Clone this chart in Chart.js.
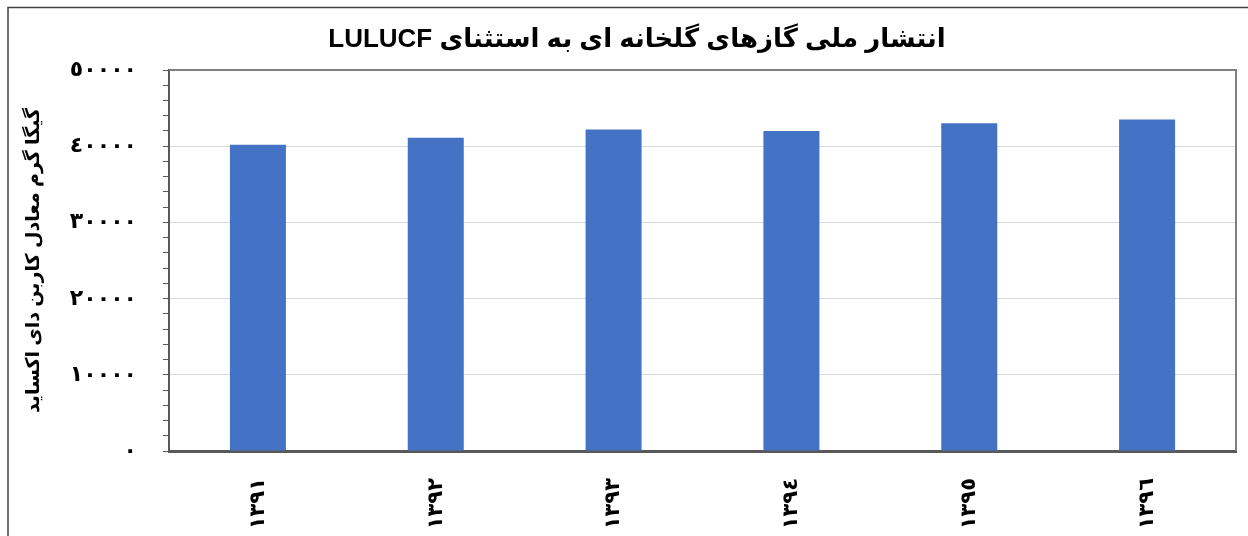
<!DOCTYPE html>
<html>
<head>
<meta charset="utf-8">
<script src="https://cdn.jsdelivr.net/npm/chart.js@4.4.0/dist/chart.umd.min.js"></script>
<style>
  html, body { margin: 0; padding: 0; background: #fff; }
  #wrap { width: 1248px; height: 536px; }
</style>
</head>
<body>
<div id="wrap"><canvas id="chart" width="1248" height="536" dir="rtl"></canvas></div>
<script>
  // data
  var years = ['١٣٩١', '١٣٩٢', '١٣٩٣', '١٣٩٤', '١٣٩٥', '١٣٩٦'];
  var emissions = [40200, 41100, 42200, 42000, 43000, 43500];
  var yMax = 50000;
  var yMajorStep = 10000;
  var yMinorStep = 2000;

  var chartTitle = 'انتشار ملی گازهای گلخانه ای به استثنای LULUCF';
  var yTitle = 'گیگا گرم معادل کاربن دای اکساید';

  var fontFamily = '"Liberation Sans", "DejaVu Sans", sans-serif';

  function toArabicDigits(n) {
    return String(n).replace(/[0-9]/g, function(d) {
      return String.fromCharCode(0x0660 + (+d));
    });
  }

  // outer frame, plot area outline and the title (sits a bit right of centre)
  var frames = {
    id: 'frames',
    afterDraw: function(chart) {
      var ctx = chart.ctx, a = chart.chartArea;
      ctx.save();
      ctx.strokeStyle = '#404040';
      ctx.lineWidth = 1.5;
      ctx.beginPath();
      ctx.moveTo(8, 536);
      ctx.lineTo(8, 7.5);
      ctx.lineTo(1248, 7.5);
      ctx.stroke();

      ctx.strokeStyle = '#808080';
      ctx.lineWidth = 2;
      ctx.beginPath();
      ctx.moveTo(a.left, a.top);
      ctx.lineTo(a.right, a.top);
      ctx.lineTo(a.right, a.bottom);
      ctx.stroke();

      ctx.fillStyle = '#000';
      ctx.font = 'bold 26px ' + fontFamily;
      ctx.textAlign = 'center';
      ctx.textBaseline = 'middle';
      ctx.fillText(chartTitle, 637, 40);
      ctx.restore();
    }
  };

  new Chart(document.getElementById('chart'), {
    type: 'bar',
    data: {
      labels: years,
      datasets: [{
        data: emissions,
        backgroundColor: '#4472c4',
        borderWidth: 0,
        barPercentage: 0.315,
        categoryPercentage: 1
      }]
    },
    options: {
      responsive: false,
      animation: false,
      devicePixelRatio: 1,
      layout: { padding: { left: 0, right: 12, top: 70, bottom: 0 } },
      plugins: {
        legend: { display: false },
        tooltip: { enabled: false },
        title: { display: false }
      },
      scales: {
        x: {
          grid: { display: false, drawTicks: false, tickLength: 0 },
          border: { display: true, color: '#595959', width: 3 },
          ticks: {
            minRotation: 90,
            maxRotation: 90,
            padding: 27,
            color: '#000',
            font: { family: fontFamily, size: 21, weight: 'bold' }
          },
          afterFit: function(scale) { scale.height = 85; }
        },
        y: {
          min: 0,
          max: yMax,
          border: { display: true, color: '#595959', width: 2 },
          grid: {
            drawTicks: true,
            tickLength: 6,
            tickColor: '#595959',
            color: function(c) {
              return c.tick && c.tick.value % yMajorStep === 0 ? '#d9d9d9' : 'rgba(0,0,0,0)';
            }
          },
          ticks: {
            stepSize: yMinorStep,
            autoSkip: false,
            padding: 26,
            color: '#000',
            font: { family: fontFamily, size: 22, weight: 'bold' },
            callback: function(v) {
              return v % yMajorStep === 0 ? toArabicDigits(v) : '';
            }
          },
          title: {
            display: true,
            text: yTitle,
            color: '#000',
            font: { family: fontFamily, size: 19, weight: 'bold' },
            padding: { top: 22, bottom: 0 }
          },
          afterFit: function(scale) { scale.width = 169; }
        }
      }
    },
    plugins: [frames]
  });
</script>
</body>
</html>
